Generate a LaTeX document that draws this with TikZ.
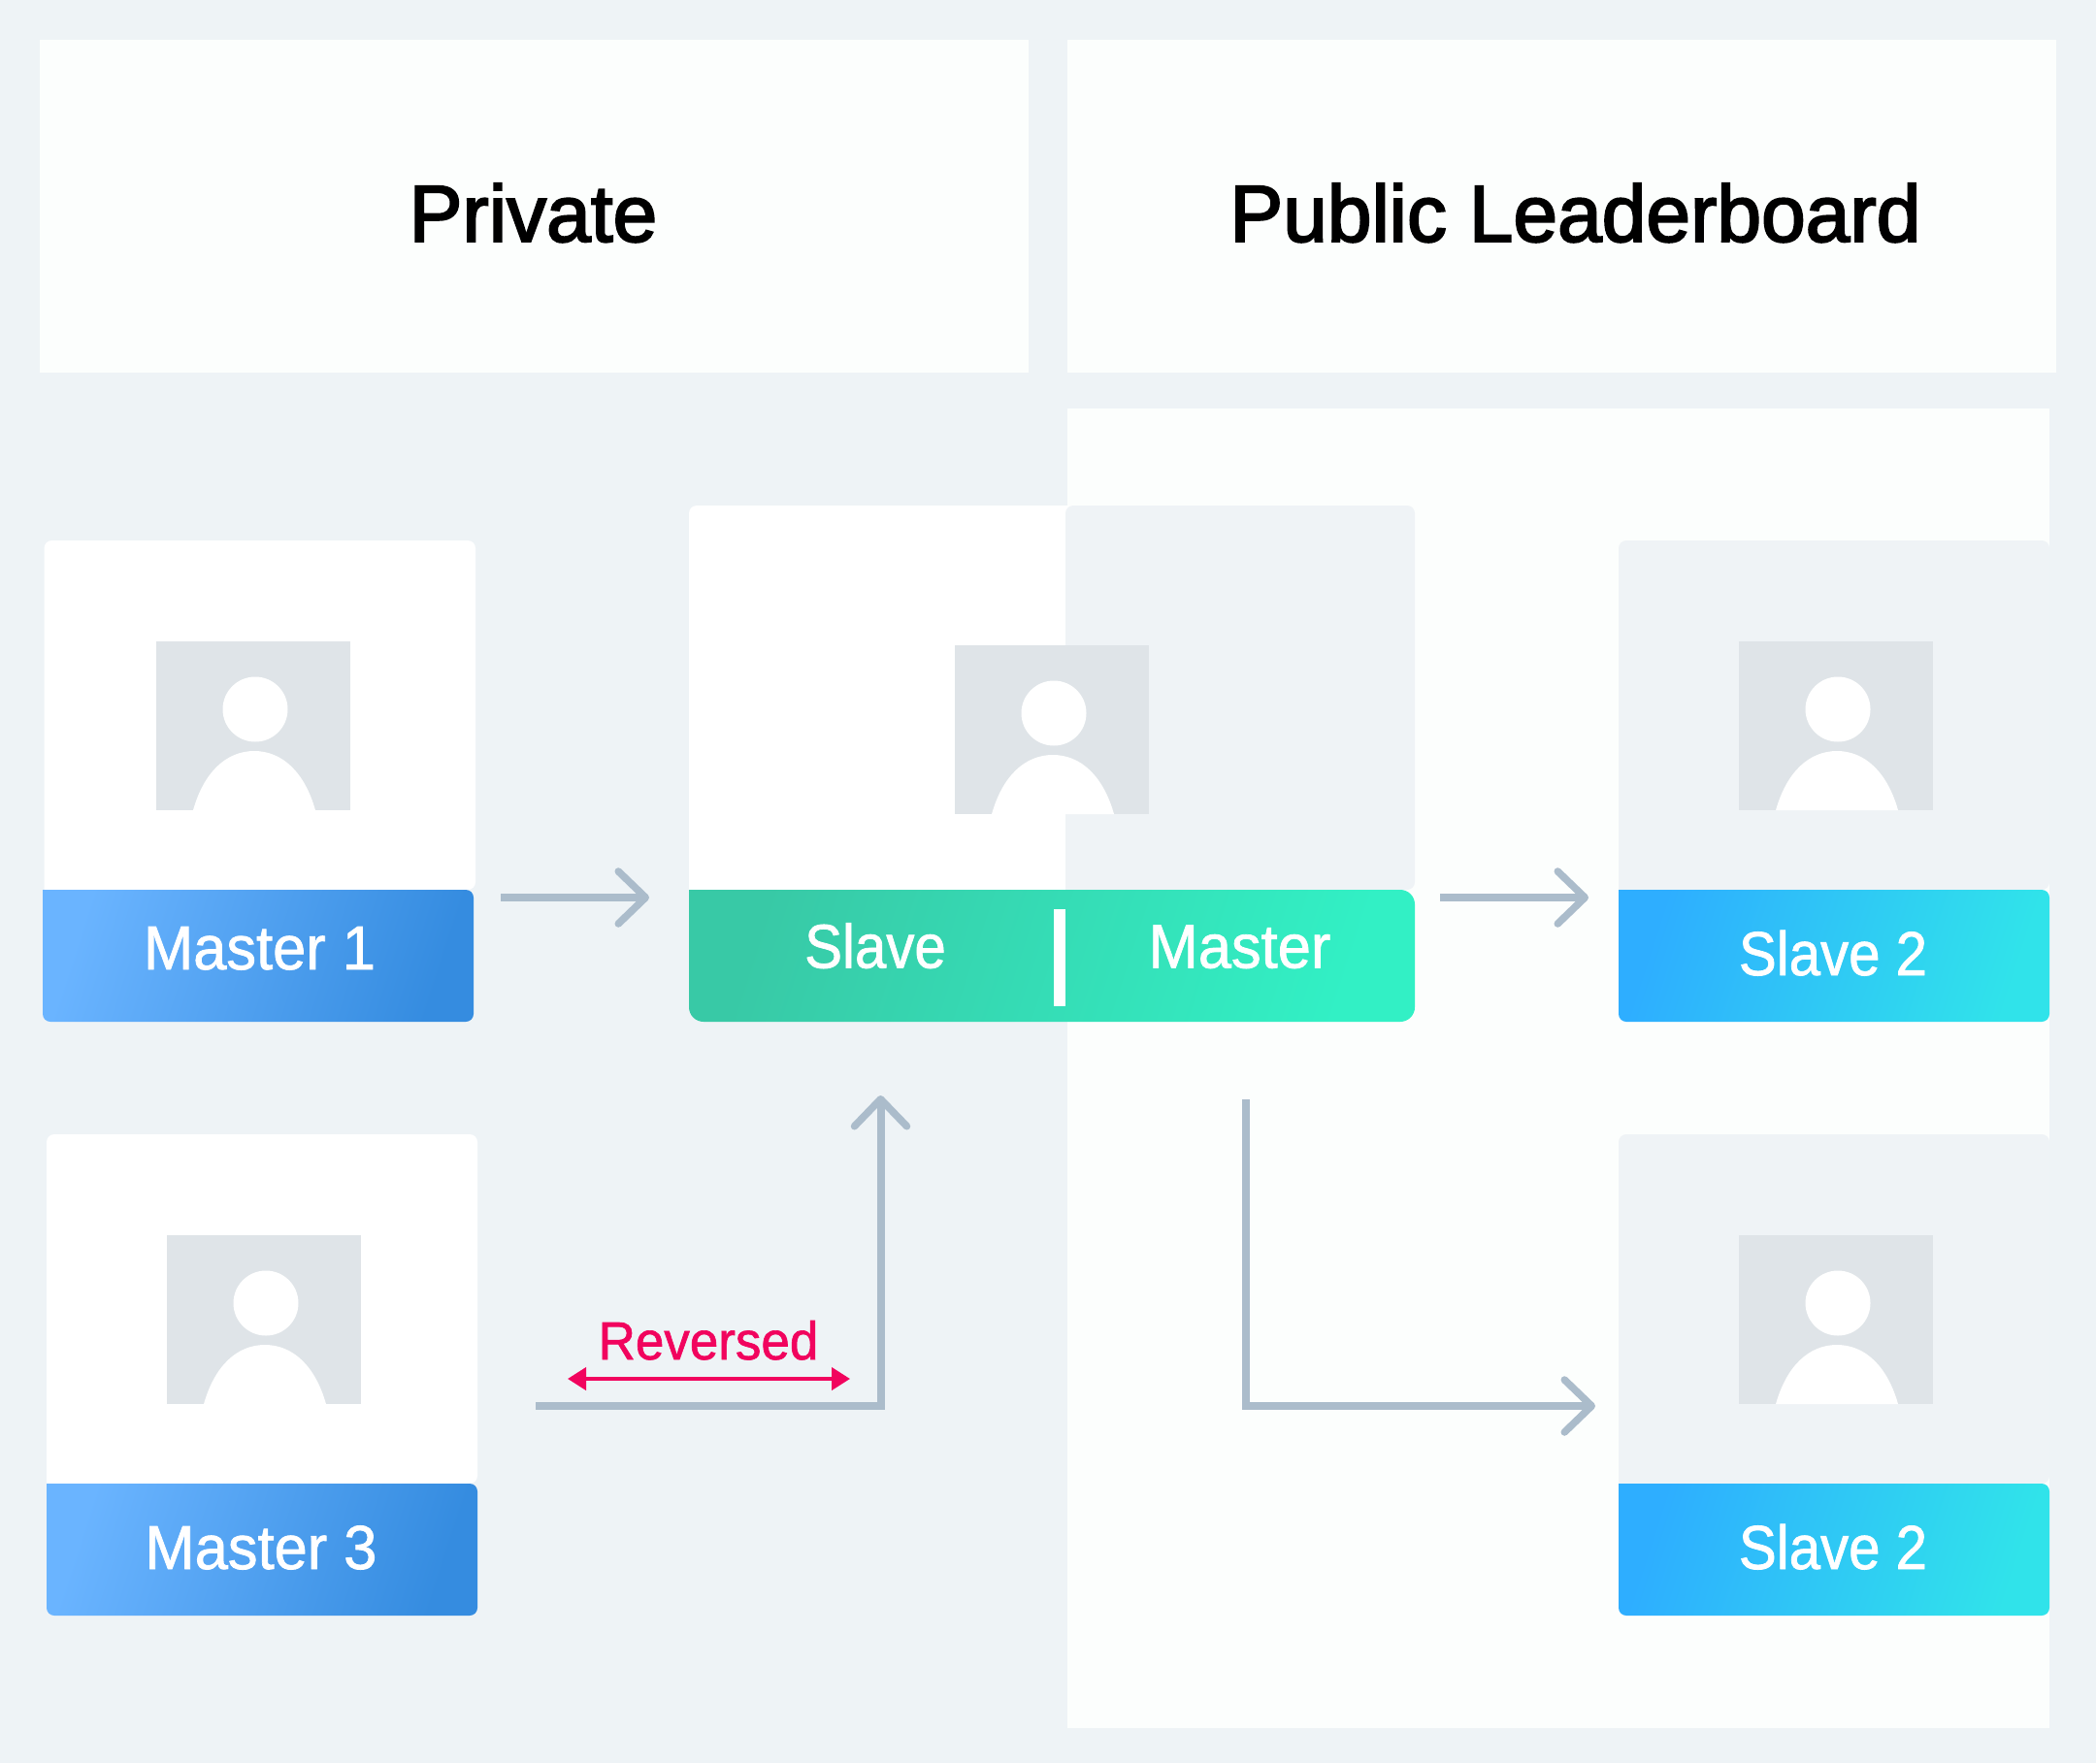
\documentclass[tikz,border=0pt]{standalone}
\usepackage{fontspec}
\newfontfamily\headfont[FakeBold=2.4,FakeStretch=0.99]{Liberation Sans}
\newfontfamily\labelfont[FakeBold=1.2,FakeStretch=0.96]{Liberation Sans}
\newfontfamily\slavefont[FakeBold=1.2,FakeStretch=0.91]{Liberation Sans}
\usepackage{tikz}
\usetikzlibrary{calc,positioning,arrows.meta}

\definecolor{pagebg}{HTML}{EEF3F6}
\definecolor{cardbg}{HTML}{EFF3F6}
\definecolor{panelwhite}{HTML}{FCFEFD}
\definecolor{avatargray}{HTML}{DFE4E8}
\definecolor{arrowgray}{HTML}{ABBCCB}
\definecolor{reversedred}{HTML}{F1045E}
\definecolor{masterleft}{HTML}{6AB4FF}
\definecolor{masterright}{HTML}{358CE0}
\definecolor{slaveleft}{HTML}{2EAEFF}
\definecolor{slaveright}{HTML}{30E3EA}
\definecolor{swapleft}{HTML}{38C9A6}
\definecolor{swapright}{HTML}{32F0C5}

\tikzset{
	headlabel/.style={anchor=base,text=black,inner sep=0pt,font=\headfont\fontsize{23.6pt}{28pt}\selectfont},
	masterlabel/.style={anchor=base,text=white,inner sep=0pt,font=\labelfont\fontsize{18.2pt}{22pt}\selectfont},
	slavelabel/.style={anchor=base,text=white,inner sep=0pt,font=\slavefont\fontsize{18.2pt}{22pt}\selectfont},
	masterband/.style={left color=masterleft,right color=masterright,shading angle=72},
	slaveband/.style={left color=slaveleft,right color=slaveright,shading angle=72},
	swapband/.style={left color=swapleft,right color=swapright,shading angle=72},
	flowarrow/.style={draw=arrowgray,line width=0.8mm,-{Straight Barb[round,length=2.8mm,width=5.4mm,line width=0.75mm]}},
}

% slab with two rounded corners at the far end: style, x0, x1, y near, y far, radius
\newcommand{\slab}[6]{\path[#1] (#2,#4) [rounded corners=#6] -- (#2,#5) -- (#3,#5) -- (#3,#4) [sharp corners] -- cycle;}
% avatar picture: lower left corner x, y
\newcommand{\avatar}[2]{
	\begin{scope}[shift={(#1,#2)}]
		\fill[avatargray] (0mm,0mm) rectangle (20mm,17.4mm);
		\fill[white] (10.2mm,10.4mm) circle (3.35mm);
		\fill[white] (3.8mm,0mm) .. controls (4.9mm,3.9mm) and (7.2mm,6.1mm) .. (10.1mm,6.1mm) .. controls (13mm,6.1mm) and (15.3mm,3.9mm) .. (16.4mm,0mm) -- cycle;
	\end{scope}
}

\begin{document}
\begin{tikzpicture}
	% \draw[color=gray,step=10mm,opacity=0.3] (0mm,0mm) grid (216mm,181.7mm); %help grid
	\fill[pagebg] (0mm,0mm) rectangle (216mm,181.7mm);
	\fill[panelwhite] (4.1mm,143.3mm) rectangle (106mm,177.6mm);
	\fill[panelwhite] (110mm,143.3mm) rectangle (211.9mm,177.6mm);
	\fill[panelwhite] (110mm,3.6mm) rectangle (211.2mm,139.6mm);
	\node[headlabel] (private) at (54.95mm,156.8mm) {Private};
	\node[headlabel] (public) at (162.35mm,156.8mm) {Public Leaderboard};

	% cards
	\slab{fill=white}{4.55mm}{49mm}{90mm}{126mm}{0.8mm}
	\slab{masterband}{4.4mm}{48.8mm}{90mm}{76.4mm}{0.8mm}
	\slab{fill=white}{4.8mm}{49.2mm}{28.8mm}{64.8mm}{0.8mm}
	\slab{masterband}{4.8mm}{49.2mm}{28.8mm}{15.2mm}{0.8mm}
	\slab{fill=white}{71mm}{112mm}{90mm}{129.6mm}{0.8mm}
	\slab{fill=cardbg}{109.8mm}{145.8mm}{90mm}{129.6mm}{0.8mm}
	\slab{swapband}{71mm}{145.8mm}{90mm}{76.4mm}{1.5mm}
	\slab{fill=cardbg}{166.8mm}{211.2mm}{90mm}{126mm}{0.8mm}
	\slab{slaveband}{166.8mm}{211.2mm}{90mm}{76.4mm}{0.8mm}
	\slab{fill=cardbg}{166.8mm}{211.2mm}{28.8mm}{64.8mm}{0.8mm}
	\slab{slaveband}{166.8mm}{211.2mm}{28.8mm}{15.2mm}{0.8mm}
	\fill[white] (108.6mm,78mm) rectangle (109.8mm,88mm);

	\avatar{16.1mm}{98.2mm}
	\avatar{17.2mm}{37mm}
	\avatar{98.4mm}{97.8mm}
	\avatar{179.2mm}{98.2mm}
	\avatar{179.2mm}{37mm}

	\node[masterlabel] (master1) at (26.75mm,81.8mm) {Master 1};
	\node[masterlabel] (master3) at (26.9mm,20mm) {Master 3};
	\node[slavelabel] (swapslave) at (90.2mm,81.95mm) {Slave};
	\node[masterlabel] (swapmaster) at (127.75mm,81.95mm) {Master};
	\node[slavelabel] (slave2a) at (188.9mm,81.2mm) {Slave 2};
	\node[slavelabel] (slave2b) at (188.9mm,20mm) {Slave 2};

	% connector ends
	\coordinate (master1out) at (51.6mm,89.2mm);
	\coordinate (swapin) at (66.9mm,89.2mm);
	\coordinate (swapout) at (148.4mm,89.2mm);
	\coordinate (slave2ain) at (163.7mm,89.2mm);
	\coordinate (master3out) at (55.2mm,36.8mm);
	\coordinate (swapbelow) at (90.75mm,68.8mm);
	\coordinate (swapdown) at (128.35mm,68.4mm);
	\coordinate (slave2bin) at (164.4mm,36.8mm);
	\coordinate (reversedl) at (58.5mm,39.6mm);
	\coordinate (reversedr) at (87.6mm,39.6mm);

	\draw[flowarrow] (master1out)--(swapin);
	\draw[flowarrow] (swapout)--(slave2ain);
	\draw[flowarrow] (master3out)-|(swapbelow);
	\draw[flowarrow] (swapdown)|-(slave2bin);
	\draw[reversedred,line width=0.4mm,{Triangle[length=1.9mm,width=2.3mm]}-{Triangle[length=1.9mm,width=2.3mm]}] (reversedl)--(reversedr);
	\node[anchor=base,text=reversedred,inner sep=0pt,font=\labelfont\fontsize{15.7pt}{18pt}\selectfont] (reversed) at (73mm,41.6mm) {Reversed};
\end{tikzpicture}
\end{document}
